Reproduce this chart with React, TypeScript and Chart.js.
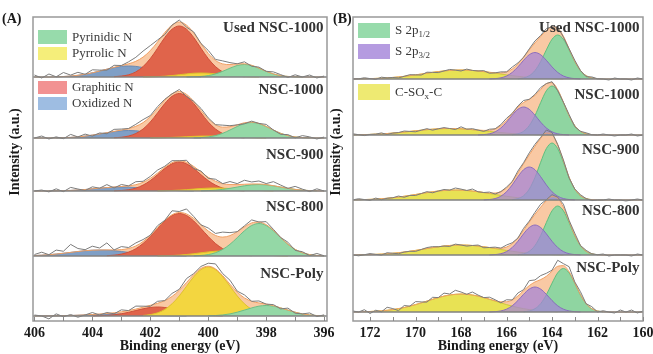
import { useEffect, useRef } from "react";
import { Chart, registerables } from "chart.js";

Chart.register(...registerables);

const FONT = "'Liberation Serif', 'Times New Roman', serif";
Chart.defaults.font.family = FONT;

type Comp = { from: number; v: number[] };

// ================= Panel (A): N 1s =================
const A_START = 396;
const A_STEP = 0.25;
const A_COUNT = 41;
const A_MIN = 395.9;
const A_MAX = 406.05;
const A_TICKS = [396, 398, 400, 402, 404, 406];
const A_SAMPLES = ["Used NSC-1000", "NSC-1000", "NSC-900", "NSC-800", "NSC-Poly"];
const A_OFFSETS = [244, 183, 130, 65, 5];

const A_PYRIDINIC: Comp[] = [
  { from: 396.75, v: [0.05, 0.2, 0.55, 1.4, 3.1, 5.7, 8.8, 11.5, 12.5, 11.5, 8.8, 5.7, 3.1, 1.4, 0.55, 0.2, 0.05] },
  { from: 396.5, v: [0.14, 0.4, 1.1, 2.4, 4.7, 8.0, 11.5, 14.4, 15.5, 14.4, 11.5, 8.0, 4.7, 2.4, 1.1, 0.4, 0.14] },
  { from: 396.25, v: [0.19, 0.43, 0.88, 1.62, 2.67, 3.95, 5.2, 6.15, 6.5, 6.15, 5.2, 3.95, 2.67, 1.62, 0.88, 0.43, 0.19] },
  { from: 396.0, v: [0.19, 0.55, 1.4, 3.3, 6.6, 11.7, 18.3, 25.2, 30.5, 32.5, 30.5, 25.2, 18.3, 11.7, 6.6, 3.3, 1.4, 0.55, 0.19] },
  { from: 396.0, v: [0.18, 0.46, 1.06, 2.1, 3.8, 5.9, 8.1, 9.85, 10.5, 9.85, 8.1, 5.9, 3.8, 2.1, 1.06, 0.46, 0.18] },
];
const A_PYRROLIC: Comp[] = [
  { from: 398.25, v: [0.1, 0.2, 0.4, 0.8, 1.4, 2.3, 3.1, 3.8, 4, 3.8, 3.1, 2.3, 1.4, 0.8, 0.4, 0.2, 0.1] },
  { from: 398.0, v: [0.1, 0.2, 0.35, 0.6, 0.9, 1.3, 1.65, 1.9, 2, 1.9, 1.65, 1.3, 0.9, 0.6, 0.35, 0.2, 0.1] },
  { from: 397.75, v: [0.13, 0.27, 0.52, 0.89, 1.37, 1.93, 2.47, 2.86, 3, 2.86, 2.47, 1.93, 1.37, 0.89, 0.52, 0.27, 0.13] },
  { from: 397.25, v: [0.1, 0.22, 0.46, 0.86, 1.5, 2.3, 3.2, 4.1, 4.76, 5, 4.76, 4.1, 3.2, 2.3, 1.5, 0.86, 0.46, 0.22, 0.1] },
  { from: 397.75, v: [0.54, 1.4, 3.2, 6.6, 12.2, 20.1, 29.7, 39.2, 46.4, 49, 46.4, 39.2, 29.7, 20.1, 12.2, 6.6, 3.2, 1.4, 0.54] },
];
const A_GRAPHITIC: Comp[] = [
  { from: 398.75, v: [0.3, 0.9, 2.2, 5.1, 10.4, 18.4, 28.7, 39.5, 47.8, 51, 47.8, 39.5, 28.7, 18.4, 10.4, 5.1, 2.2, 0.9, 0.3] },
  { from: 398.75, v: [0.25, 0.75, 2.0, 4.5, 9.0, 16.0, 25.1, 34.5, 41.7, 44.5, 41.7, 34.5, 25.1, 16.0, 9.0, 4.5, 2.0, 0.75, 0.25] },
  { from: 398.75, v: [0.17, 0.5, 1.3, 2.9, 5.9, 10.4, 16.3, 22.5, 27.2, 29, 27.2, 22.5, 16.3, 10.4, 5.9, 2.9, 1.3, 0.5, 0.17] },
  { from: 398.5, v: [0.3, 0.8, 1.9, 3.9, 7.3, 12.5, 19.5, 27.4, 35.0, 40.5, 42.5, 40.5, 35.0, 27.4, 19.5, 12.5, 7.3, 3.9, 1.9, 0.8, 0.3] },
  { from: 399.5, v: [0.1, 0.26, 0.6, 1.2, 2.24, 3.7, 5.5, 7.2, 8.5, 9, 8.5, 7.2, 5.5, 3.7, 2.24, 1.2, 0.6, 0.26, 0.1] },
];
const A_OXIDIZED: Comp[] = [
  { from: 400.25, v: [0.2, 0.5, 0.9, 1.7, 2.7, 4.2, 5.9, 7.8, 9.4, 10.6, 11, 10.6, 9.4, 7.8, 5.9, 4.2, 2.7, 1.7, 0.9, 0.5, 0.2] },
  { from: 400.25, v: [0.15, 0.3, 0.6, 1.1, 1.9, 2.9, 4.05, 5.3, 6.4, 7.2, 7.5, 7.2, 6.4, 5.3, 4.05, 2.9, 1.9, 1.1, 0.6, 0.3, 0.15] },
  { from: 400.5, v: [0.08, 0.18, 0.35, 0.6, 1.0, 1.5, 2.2, 2.8, 3.4, 3.85, 4, 3.85, 3.4, 2.8, 2.2, 1.5, 1.0, 0.6, 0.35, 0.18, 0.08] },
  { from: 400.75, v: [0.07, 0.14, 0.26, 0.48, 0.8, 1.3, 1.95, 2.75, 3.6, 4.5, 5.3, 5.8, 6, 5.8, 5.3, 4.5, 3.6, 2.75, 1.95, 1.3, 0.8, 0.48] },
  { from: 400.75, v: [0.04, 0.09, 0.17, 0.3, 0.5, 0.76, 1.08, 1.4, 1.7, 1.92, 2, 1.92, 1.7, 1.4, 1.08, 0.76, 0.5, 0.3, 0.17, 0.09, 0.04] },
];
// raw counts minus fit (396 -> 406, step 0.25)
const A_RESIDUALS = [
  [1, -1, 2, 0, 2, -1, 1, 2, 0, 1, -1, 2, 0, 2, 3, 1, 3, 0, 1, -2, 2, 0, -2, 2, 5, 6, 4, 2, 0, 2, -1, 1, 3, 0, 3, 1, 4, 0, 3, -1, 2],
  [1, -1, 1, 2, -1, 1, -1, 0, 2, 0, 1, -1, 0, 1, 2, 0, 1, 2, 0, -2, 2, 0, 1, 2, 1, 3, 2, 0, 1, 2, -1, 1, -1, 2, 0, 3, -1, 1, -1, 2, 0],
  [0, 2, -1, 1, 3, 0, 2, 4, 1, 3, 2, 4, 1, 3, 0, 2, -1, 1, -2, 2, 0, 2, 1, 3, 2, 1, 3, 0, 2, -1, 3, 0, 2, -1, 1, 3, -1, 2, -1, 1, 0],
  [0, 2, -1, 1, -1, 2, 0, 1, 3, 0, 3, 1, 0, 3, 5, 2, 3, 0, 2, 5, 1, 4, 0, 2, 0, 2, 3, 1, 3, 0, 7, 2, 4, 1, 3, 8, 2, 4, 0, 3, 1],
  [1, -1, 2, 0, -1, 2, -1, 1, 0, 2, 0, 3, 1, 4, 2, 5, 3, 2, 1, 4, 1, 3, 0, 2, -1, 1, 3, 0, 2, -1, 1, -1, 2, 0, -2, 1, -1, 2, -3, 0, 1],
];

// ================= Panel (B): S 2p =================
const B_START = 160;
const B_STEP = 0.25;
const B_COUNT = 52;
const B_MIN = 160;
const B_MAX = 172.75;
const B_TICKS = [160, 162, 164, 166, 168, 170, 172];
const B_SAMPLES = ["Used NSC-1000", "NSC-1000", "NSC-900", "NSC-800", "NSC-Poly"];
const B_OFFSETS = [242, 186, 121, 66, 9];

const B_S2P12: Comp[] = [
  { from: 162.0, v: [0.28, 1.07, 3.3, 8.4, 17.4, 29.1, 39.7, 44, 39.7, 29.1, 17.4, 8.4, 3.3, 1.07, 0.28] },
  { from: 162.25, v: [0.3, 1.2, 3.7, 9.4, 19.4, 32.4, 44.2, 49, 44.2, 32.4, 19.4, 9.4, 3.7, 1.2, 0.3] },
  { from: 162.25, v: [0.36, 1.4, 4.3, 10.9, 22.5, 37.7, 51.4, 57, 51.4, 37.7, 22.5, 10.9, 4.3, 1.4, 0.36] },
  { from: 162.0, v: [0.3, 1.2, 3.7, 9.4, 19.4, 32.4, 44.2, 49, 44.2, 32.4, 19.4, 9.4, 3.7, 1.2, 0.3] },
  { from: 161.75, v: [0.27, 1.06, 3.3, 8.3, 17.2, 28.8, 39.2, 43.5, 39.2, 28.8, 17.2, 8.3, 3.3, 1.06, 0.27] },
];
const B_S2P32: Comp[] = [
  { from: 162.75, v: [0.1, 0.38, 1.17, 3.0, 6.6, 12.1, 18.7, 24.3, 26.5, 24.3, 18.7, 12.1, 6.6, 3.0, 1.17, 0.38, 0.1] },
  { from: 163.25, v: [0.11, 0.4, 1.23, 3.2, 7.0, 12.8, 19.8, 25.7, 28, 25.7, 19.8, 12.8, 7.0, 3.2, 1.23, 0.4, 0.11] },
  { from: 163.0, v: [0.13, 0.47, 1.45, 3.8, 8.2, 15.1, 23.3, 30.3, 33, 30.3, 23.3, 15.1, 8.2, 3.8, 1.45, 0.47, 0.13] },
  { from: 162.75, v: [0.12, 0.43, 1.32, 3.4, 7.5, 13.7, 21.2, 27.5, 30, 27.5, 21.2, 13.7, 7.5, 3.4, 1.32, 0.43, 0.12] },
  { from: 162.75, v: [0.1, 0.36, 1.1, 2.85, 6.2, 11.5, 17.7, 22.9, 25, 22.9, 17.7, 11.5, 6.2, 2.85, 1.1, 0.36, 0.1] },
];
const B_CSOXC: Comp[] = [
  { from: 163.5, v: [0.17, 0.26, 0.4, 0.58, 0.82, 1.14, 1.55, 2.05, 2.66, 3.35, 4.12, 4.95, 5.8, 6.63, 7.4, 8.06, 8.57, 8.9, 9, 8.9, 8.57, 8.06, 7.4, 6.63, 5.8, 4.95, 4.12, 3.35, 2.66, 2.05, 1.55, 1.14, 0.82, 0.58, 0.4, 0.26, 0.17] },
  { from: 164.0, v: [0.12, 0.19, 0.29, 0.42, 0.59, 0.83, 1.12, 1.48, 1.92, 2.42, 2.98, 3.58, 4.19, 4.79, 5.35, 5.82, 6.19, 6.42, 6.5, 6.42, 6.19, 5.82, 5.35, 4.79, 4.19, 3.58, 2.98, 2.42, 1.92, 1.48, 1.12, 0.83, 0.59, 0.42, 0.29, 0.19] },
  { from: 163.75, v: [0.19, 0.29, 0.44, 0.64, 0.91, 1.27, 1.72, 2.28, 2.95, 3.72, 4.58, 5.5, 6.44, 7.37, 8.23, 8.96, 9.52, 9.88, 10, 9.88, 9.52, 8.96, 8.23, 7.37, 6.44, 5.5, 4.58, 3.72, 2.95, 2.28, 1.72, 1.27, 0.91, 0.64, 0.44, 0.29, 0.19] },
  { from: 163.5, v: [0.19, 0.29, 0.44, 0.64, 0.91, 1.27, 1.72, 2.28, 2.95, 3.72, 4.58, 5.5, 6.44, 7.37, 8.23, 8.96, 9.52, 9.88, 10, 9.88, 9.52, 8.96, 8.23, 7.37, 6.44, 5.5, 4.58, 3.72, 2.95, 2.28, 1.72, 1.27, 0.91, 0.64, 0.44, 0.29, 0.19] },
  { from: 163.75, v: [0.32, 0.51, 0.79, 1.18, 1.72, 2.43, 3.35, 4.48, 5.85, 7.4, 9.1, 10.9, 12.7, 14.4, 15.9, 17.0, 17.7, 18, 17.7, 17.0, 15.9, 14.4, 12.7, 10.9, 9.1, 7.4, 5.85, 4.48, 3.35, 2.43, 1.72, 1.18, 0.79, 0.51, 0.32] },
];
// raw counts minus fit (160 -> 172.75, step 0.25)
const B_RESIDUALS = [
  [0, 1, -1, 0, 0, 1, -1, 0, 0, 1, -1, 0, 1, 0, -1, 1, 0, 2, 1, 2, 1, 0, 1, 2, 0, 1, 0, -1, 1, 0, 0, 1, -1, 0, 1, 0, -1, 0, 1, -1, 0, 1, 0, -1, 0, 0, 1, -1, 0, 1, 0, 0],
  [0, -1, 1, 0, 0, -1, 0, 1, 0, 0, 1, 0, -1, 1, 0, -1, 1, 0, 2, 1, 0, 2, 1, 0, 2, 1, 0, 1, -1, 0, 1, 0, 2, -1, 0, 1, 0, -1, 1, 0, -1, 0, 1, 0, 0, -1, 1, 0, 0, -1, 0, 1],
  [0, 1, 0, -1, 0, 0, 1, 0, 0, -1, 0, 1, 0, -1, 1, 0, 2, 3, 1, 2, 2, 1, 2, 0, 1, 0, -1, 1, 0, 0, 2, 0, 1, 2, 0, 1, 0, -1, 1, 0, -1, 0, -1, 1, 0, 0, -1, 1, -1, 0, 1, 0],
  [0, 1, -1, 0, 0, 0, -1, 1, 0, 0, 1, 0, 2, 1, 3, 1, 2, 1, 3, 2, 1, 2, 0, 1, 2, 0, 1, 0, -1, 1, 0, -1, 0, 1, -1, 0, 0, 1, 1, 0, -1, 0, 0, -1, 0, 1, -1, 0, 1, 0, -1, 0],
  [1, -1, 2, 0, 2, -1, 0, 1, -1, 2, 0, 3, 1, 5, 2, 6, 1, 3, 4, 2, 5, 1, 3, 0, 2, -1, 1, 2, 0, 1, 3, 0, 2, 4, 1, 3, 0, 2, -1, 1, 3, 0, 2, -2, 1, 3, -1, 1, -2, 2, 0, 1],
];

const ENV_FILL = "#f9c9a4";
const ENV_LINE = "#f0a063";
const RAW_LINE = "#7c7c7c";

type Part = { t: string; sub?: boolean };
type LegendItem = { parts: Part[]; color: string; x: number; y: number; w: number; h: number };

function buildDatasets(p: any) {
  const ds: any[] = [];
  const grid = Array.from({ length: p.count }, (_, i) => p.start + i * p.step);
  p.samples.forEach((name: string, s: number) => {
    const base = p.offsets[s];
    const total = new Array(p.count).fill(0);
    p.comps.forEach((c: any) => {
      const comp: Comp = c.data[s];
      const i0 = Math.round((comp.from - p.start) / p.step);
      comp.v.forEach((val, k) => {
        const i = i0 + k;
        if (i >= 0 && i < p.count) total[i] += val;
      });
      const pts = comp.v.map((val, k) => ({ x: comp.from + k * p.step, y: base + val })).reverse();
      ds.push({
        label: `${name} ${c.key}`,
        data: pts,
        fill: { value: base },
        backgroundColor: c.fill,
        borderColor: c.line,
        borderWidth: 1,
        order: c.order,
        cubicInterpolationMode: "monotone",
        pointRadius: 0,
      });
    });
    const env = () => grid.map((x, i) => ({ x, y: base + total[i] })).reverse();
    ds.push({
      label: `${name} envelope`,
      data: env(),
      fill: { value: base },
      backgroundColor: ENV_FILL,
      borderColor: "rgba(0,0,0,0)",
      borderWidth: 0,
      order: 60,
      cubicInterpolationMode: "monotone",
      pointRadius: 0,
    });
    ds.push({
      label: `${name} fit`,
      data: env(),
      fill: false,
      borderColor: ENV_LINE,
      borderWidth: 1,
      order: 5,
      cubicInterpolationMode: "monotone",
      pointRadius: 0,
    });
    ds.push({
      label: `${name} raw`,
      data: grid.map((x, i) => ({ x, y: base + total[i] + p.residuals[s][i] })).reverse(),
      fill: false,
      borderColor: RAW_LINE,
      borderWidth: 1,
      order: 1,
      tension: 0,
      pointRadius: 0,
    });
  });
  return ds;
}

function drawParts(ctx: CanvasRenderingContext2D, parts: Part[], x: number, y: number) {
  let cx = x;
  parts.forEach((pt) => {
    ctx.font = pt.sub ? `9px ${FONT}` : `13px ${FONT}`;
    ctx.fillText(pt.t, cx, pt.sub ? y + 4 : y);
    cx += ctx.measureText(pt.t).width;
  });
}

function makePlugin(cfg: any) {
  return {
    id: "decor",
    afterDatasetsDraw(chart: any) {
      const { ctx, chartArea: a, scales } = chart;
      const xs = scales.x;
      const ys = scales.y;
      ctx.save();
      // sub-panel baselines
      ctx.strokeStyle = "#808080";
      ctx.lineWidth = 1.5;
      cfg.offsets.forEach((o: number) => {
        const py = ys.getPixelForValue(o);
        ctx.beginPath();
        ctx.moveTo(a.left, py);
        ctx.lineTo(a.right, py);
        ctx.stroke();
      });
      // frame
      ctx.strokeStyle = "#999999";
      ctx.lineWidth = 1.5;
      ctx.strokeRect(a.left, a.top, a.right - a.left, a.bottom - a.top);
      // inward ticks every 1 eV
      ctx.strokeStyle = "#888888";
      ctx.lineWidth = 1;
      for (let v = Math.ceil(cfg.min); v <= Math.floor(cfg.max); v++) {
        const px = Math.round(xs.getPixelForValue(v)) + 0.5;
        ctx.beginPath();
        ctx.moveTo(px, a.bottom);
        ctx.lineTo(px, a.bottom - 4);
        ctx.stroke();
      }
      // sample labels
      ctx.fillStyle = "#333333";
      ctx.font = `bold 15px ${FONT}`;
      ctx.textAlign = "right";
      ctx.textBaseline = "middle";
      cfg.samples.forEach((s: string, i: number) => ctx.fillText(s, a.right - 3.5, cfg.labelY[i]));
      // legend
      ctx.textAlign = "left";
      cfg.legend.forEach((it: LegendItem) => {
        ctx.fillStyle = it.color;
        ctx.fillRect(it.x, it.y, it.w, it.h);
        ctx.fillStyle = "#3a3a3a";
        drawParts(ctx, it.parts, it.x + it.w + 5, it.y + it.h / 2 + 0.5);
      });
      // titles
      ctx.fillStyle = "#1a1a1a";
      ctx.font = `bold 14px ${FONT}`;
      ctx.textAlign = "left";
      ctx.fillText(cfg.letter, cfg.letterX, 19);
      ctx.textAlign = "center";
      ctx.fillText("Binding energy (eV)", (a.left + a.right) / 2, 346);
      ctx.save();
      ctx.translate(cfg.yTitleX, 152);
      ctx.rotate(-Math.PI / 2);
      ctx.fillText("Intensity (a.u.)", 0, 0);
      ctx.restore();
      ctx.restore();
    },
  };
}

function makeChart(canvas: HTMLCanvasElement, p: any) {
  return new Chart(canvas, {
    type: "line",
    data: { datasets: buildDatasets(p) },
    options: {
      animation: false,
      responsive: false,
      maintainAspectRatio: false,
      events: [],
      layout: { padding: p.padding },
      plugins: { legend: { display: false }, tooltip: { enabled: false } },
      elements: { point: { radius: 0 } },
      scales: {
        x: {
          type: "linear",
          reverse: true,
          min: p.min,
          max: p.max,
          grid: { display: false, drawTicks: false },
          border: { display: false },
          ticks: {
            autoSkip: false,
            maxRotation: 0,
            padding: 4,
            color: "#1a1a1a",
            font: { family: FONT, size: 14, weight: "bold" },
          },
          afterBuildTicks: (scale: any) => {
            scale.ticks = p.ticks.map((v: number) => ({ value: v }));
          },
          afterFit: (scale: any) => {
            scale.height = 33;
          },
        },
        y: { display: false, min: 0, max: 304 },
      },
    } as any,
    plugins: [makePlugin(p.decor)],
  });
}

const PANEL_A = {
  start: A_START, step: A_STEP, count: A_COUNT, min: A_MIN, max: A_MAX, ticks: A_TICKS,
  samples: A_SAMPLES, offsets: A_OFFSETS, residuals: A_RESIDUALS,
  comps: [
    { key: "Oxidized N", data: A_OXIDIZED, fill: "#7f9fc6", line: "#6a8ab3", order: 40 },
    { key: "Graphitic N", data: A_GRAPHITIC, fill: "#e0644b", line: "#cf5038", order: 30 },
    { key: "Pyrrolic N", data: A_PYRROLIC, fill: "#f3d640", line: "#dfc12c", order: 20 },
    { key: "Pyrinidic N", data: A_PYRIDINIC, fill: "#94d8a6", line: "#6cbf86", order: 15 },
  ],
  padding: { left: 33, right: 13, top: 17, bottom: 0 },
  decor: {
    min: A_MIN, max: A_MAX, offsets: A_OFFSETS, samples: A_SAMPLES,
    labelY: [28, 90, 155, 207, 274],
    letter: "(A)", letterX: 2, yTitleX: 15,
    legend: [
      { parts: [{ t: "Pyrinidic N" }], color: "#97dbab", x: 38, y: 30, w: 29, h: 14 },
      { parts: [{ t: "Pyrrolic N" }], color: "#f5ee7a", x: 38, y: 47, w: 29, h: 13 },
      { parts: [{ t: "Graphitic N" }], color: "#f29292", x: 38, y: 81, w: 29, h: 13 },
      { parts: [{ t: "Oxidized N" }], color: "#9ebde2", x: 38, y: 97, w: 29, h: 13 },
    ],
  },
};

const PANEL_B = {
  start: B_START, step: B_STEP, count: B_COUNT, min: B_MIN, max: B_MAX, ticks: B_TICKS,
  samples: B_SAMPLES, offsets: B_OFFSETS, residuals: B_RESIDUALS,
  comps: [
    { key: "C-SOx-C", data: B_CSOXC, fill: "#e8e254", line: "#cfc83a", order: 40 },
    { key: "S 2p1/2", data: B_S2P12, fill: "#8fd5a1", line: "#5fbf7d", order: 30 },
    { key: "S 2p3/2", data: B_S2P32, fill: "rgba(164,132,214,0.74)", line: "rgba(132,102,189,0.9)", order: 20 },
  ],
  padding: { left: 23, right: 10, top: 17, bottom: 0 },
  decor: {
    min: B_MIN, max: B_MAX, offsets: B_OFFSETS, samples: B_SAMPLES,
    labelY: [28, 95, 150, 211, 268],
    letter: "(B)", letterX: 3, yTitleX: 6,
    legend: [
      { parts: [{ t: "S 2p" }, { t: "1/2", sub: true }], color: "#97dbab", x: 28, y: 23, w: 32, h: 15 },
      { parts: [{ t: "S 2p" }, { t: "3/2", sub: true }], color: "#b59be0", x: 28, y: 44, w: 32, h: 15 },
      { parts: [{ t: "C-SO" }, { t: "x", sub: true }, { t: "-C" }], color: "#eeea72", x: 28, y: 84, w: 32, h: 16 },
    ],
  },
};

export default function App() {
  const refA = useRef<HTMLCanvasElement>(null);
  const refB = useRef<HTMLCanvasElement>(null);
  useEffect(() => {
    const ca = makeChart(refA.current as HTMLCanvasElement, PANEL_A);
    const cb = makeChart(refB.current as HTMLCanvasElement, PANEL_B);
    return () => {
      ca.destroy();
      cb.destroy();
    };
  }, []);
  return (
    <div style={{ position: "fixed", left: 0, top: 0, width: 653, height: 354, background: "#ffffff", overflow: "hidden" }}>
      <canvas ref={refA} width={340} height={354} style={{ position: "absolute", left: 0, top: 0 }} />
      <canvas ref={refB} width={323} height={354} style={{ position: "absolute", left: 330, top: 0 }} />
    </div>
  );
}
